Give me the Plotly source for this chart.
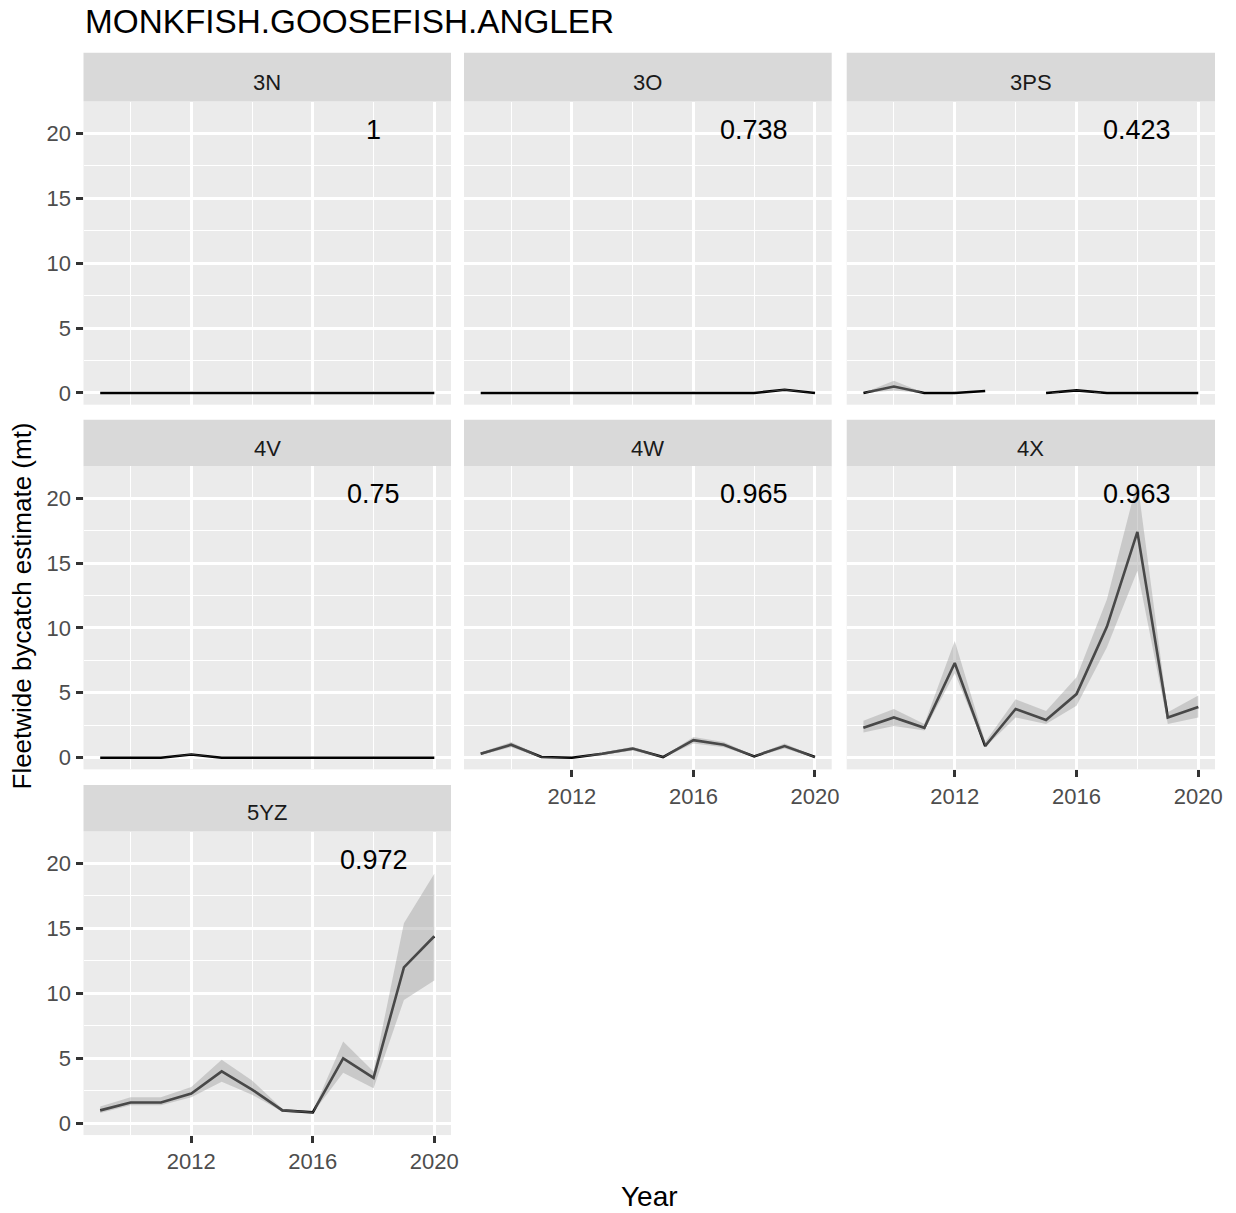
import plotly.graph_objects as go

# ---- data -------------------------------------------------------------
years = list(range(2009, 2021))
areas = ["3N", "3O", "3PS", "4V", "4W", "4X", "5YZ"]
area_labels = ["1", "0.738", "0.423", "0.75", "0.965", "0.963", "0.972"]

est_3N = [0, 0, 0, 0, 0, 0, 0, 0, 0, 0, 0, 0]
lo_3N = [0, 0, 0, 0, 0, 0, 0, 0, 0, 0, 0, 0]
hi_3N = [0, 0, 0, 0, 0, 0, 0, 0, 0, 0, 0, 0]

est_3O = [0, 0, 0, 0, 0, 0, 0, 0, 0, 0, 0.25, 0]
lo_3O = [0, 0, 0, 0, 0, 0, 0, 0, 0, 0, 0.22, 0]
hi_3O = [0, 0, 0, 0, 0, 0, 0, 0, 0, 0, 0.28, 0]

est_3PS = [0, 0.5, 0, 0, 0.15, None, 0, 0.2, 0, 0, 0, 0]
lo_3PS = [0, 0.2, 0, 0, 0.15, None, 0, 0.18, 0, 0, 0, 0]
hi_3PS = [0, 0.95, 0, 0, 0.15, None, 0, 0.22, 0, 0, 0, 0]

est_4V = [0, 0, 0, 0.25, 0, 0, 0, 0, 0, 0, 0, 0]
lo_4V = [0, 0, 0, 0.22, 0, 0, 0, 0, 0, 0, 0, 0]
hi_4V = [0, 0, 0, 0.28, 0, 0, 0, 0, 0, 0, 0, 0]

est_4W = [0.3, 1.0, 0.05, 0, 0.3, 0.7, 0.05, 1.35, 1.0, 0.1, 0.9, 0.05]
lo_4W = [0.2, 0.8, 0, 0, 0.2, 0.55, 0, 1.1, 0.8, 0.05, 0.7, 0]
hi_4W = [0.4, 1.2, 0.1, 0, 0.4, 0.85, 0.1, 1.6, 1.2, 0.15, 1.1, 0.1]

est_4X = [2.3, 3.1, 2.3, 7.3, 0.9, 3.75, 2.9, 4.9, 10.1, 17.4, 3.1, 3.9]
lo_4X = [1.95, 2.45, 2.1, 6.5, 0.8, 3.1, 2.6, 4.0, 8.5, 14.4, 2.6, 3.1]
hi_4X = [2.85, 3.75, 2.6, 9.0, 1.2, 4.5, 3.6, 6.2, 12.2, 21.3, 3.5, 4.8]

est_5YZ = [1.0, 1.6, 1.6, 2.3, 4.0, 2.6, 1.0, 0.85, 5.0, 3.5, 12.0, 14.4]
lo_5YZ = [0.8, 1.4, 1.4, 2.0, 3.2, 2.2, 0.9, 0.8, 3.9, 2.7, 9.5, 11.0]
hi_5YZ = [1.3, 2.0, 2.0, 2.8, 4.9, 3.3, 1.1, 0.9, 6.3, 4.0, 15.4, 19.2]

estimates = [est_3N, est_3O, est_3PS, est_4V, est_4W, est_4X, est_5YZ]
lowers = [lo_3N, lo_3O, lo_3PS, lo_4V, lo_4W, lo_4X, lo_5YZ]
uppers = [hi_3N, hi_3O, hi_3PS, hi_4V, hi_4W, hi_4X, hi_5YZ]

x_ticks = [2012, 2016, 2020]
x_minor = [2010, 2014, 2018]
y_ticks = [0, 5, 10, 15, 20]
y_minor = [2.5, 7.5, 12.5, 17.5]

# ---- layout geometry (pixels) -----------------------------------------
W, H = 1236, 1213
W_PLOT = 1228  # width the paper coordinates span once rendered
col_px = [(83.5, 451.0), (464.0, 831.7), (846.7, 1215.0)]
row_panel_px = [(101.7, 405.0), (466.7, 770.0), (832.3, 1136.0)]
row_strip_px = [(52.7, 101.7), (420.0, 466.7), (785.7, 832.3)]
row_strip_text = [83.0, 448.5, 813.5]

XR = [2008.45, 2020.55]
YR = [-0.9, 22.45]

FONT = "Liberation Sans, Arial, sans-serif"
PANEL_BG = "#EBEBEB"
STRIP_BG = "#D9D9D9"
RIBBON = "rgba(160,160,160,0.45)"


def px_x(p):
    return p / W_PLOT


def px_y(p):
    return 1 - p / H


def segments(xs, lo, hi):
    """Split a ribbon into runs without missing values."""
    runs, cur = [], []
    for x, a, b in zip(xs, lo, hi):
        if a is None or b is None:
            if cur:
                runs.append(cur)
            cur = []
        else:
            cur.append((x, a, b))
    if cur:
        runs.append(cur)
    return runs


fig = go.Figure()
shapes, annotations = [], []
layout = {}

for i, name in enumerate(areas):
    k = i + 1
    r, c = divmod(i, 3)
    xa = "x" if k == 1 else f"x{k}"
    ya = "y" if k == 1 else f"y{k}"
    bottom = name in ("4W", "4X", "5YZ")
    left = c == 0

    # estimate line
    fig.add_trace(go.Scatter(
        x=years, y=estimates[i], mode="lines",
        line=dict(color="black", width=2.6),
        xaxis=xa, yaxis=ya, showlegend=False, hoverinfo="skip",
    ))
    # confidence ribbon drawn over the line
    for run in segments(years, lowers[i], uppers[i]):
        xs = [p[0] for p in run] + [p[0] for p in run[::-1]]
        ys = [p[2] for p in run] + [p[1] for p in run[::-1]]
        fig.add_trace(go.Scatter(
            x=xs, y=ys, mode="lines", fill="toself", fillcolor=RIBBON,
            line=dict(width=0, color="rgba(0,0,0,0)"),
            xaxis=xa, yaxis=ya, showlegend=False, hoverinfo="skip",
        ))

    x0, x1 = col_px[c]
    py0, py1 = row_panel_px[r]
    layout["xaxis" if k == 1 else f"xaxis{k}"] = dict(
        domain=[px_x(x0), px_x(x1)], anchor=ya, range=XR,
        tickvals=x_ticks, ticktext=[str(v) for v in x_ticks],
        showticklabels=bottom, ticks="outside" if bottom else "",
        ticklen=7, tickwidth=2.5, tickcolor="#333333",
        tickfont=dict(family=FONT, size=22, color="#4D4D4D"),
        showgrid=True, gridcolor="white", gridwidth=2.7,
        minor=dict(tickvals=x_minor, showgrid=True, gridcolor="white",
                   gridwidth=1.4, ticks=""),
        zeroline=False, showline=False, fixedrange=True,
    )
    layout["yaxis" if k == 1 else f"yaxis{k}"] = dict(
        domain=[px_y(py1), px_y(py0)], anchor=xa, range=YR,
        tickvals=y_ticks, ticktext=[str(v) for v in y_ticks],
        showticklabels=left, ticks="outside" if left else "",
        ticklen=7, tickwidth=2.5, tickcolor="#333333",
        tickfont=dict(family=FONT, size=22, color="#4D4D4D"),
        showgrid=True, gridcolor="white", gridwidth=2.7,
        minor=dict(tickvals=y_minor, showgrid=True, gridcolor="white",
                   gridwidth=1.4, ticks=""),
        zeroline=False, showline=False, fixedrange=True,
    )

    # facet strip
    s0, s1 = row_strip_px[r]
    shapes.append(dict(
        type="rect", xref="paper", yref="paper",
        x0=px_x(x0), x1=px_x(x1), y0=px_y(s1), y1=px_y(s0),
        fillcolor=STRIP_BG, line=dict(width=0), layer="below",
    ))
    annotations.append(dict(
        text=name, xref="paper", yref="paper",
        x=px_x((x0 + x1) / 2), y=px_y(row_strip_text[r]),
        xanchor="center", yanchor="middle", showarrow=False,
        font=dict(family=FONT, size=22, color="#1A1A1A"),
    ))
    # panel value label
    annotations.append(dict(
        text=area_labels[i], xref=xa, yref=ya, x=2018, y=20.3,
        xanchor="center", yanchor="middle", showarrow=False,
        font=dict(family=FONT, size=27, color="black"),
    ))

# titles
annotations.append(dict(
    text="MONKFISH.GOOSEFISH.ANGLER", xref="paper", yref="paper",
    x=px_x(83), y=px_y(22), xanchor="left", yanchor="middle",
    showarrow=False, font=dict(family=FONT, size=33.3, color="black"),
))
annotations.append(dict(
    text="Year", xref="paper", yref="paper",
    x=px_x(649), y=px_y(1197), xanchor="center", yanchor="middle",
    showarrow=False, font=dict(family=FONT, size=28, color="black"),
))
annotations.append(dict(
    text="Fleetwide bycatch estimate (mt)", xref="paper", yref="paper",
    x=px_x(22), y=px_y(607), xanchor="center", yanchor="middle",
    textangle=-90, showarrow=False,
    font=dict(family=FONT, size=26, color="black"),
))

fig.update_layout(
    width=W, height=H, autosize=False,
    margin=dict(l=0, r=0, t=0, b=0),
    paper_bgcolor="white", plot_bgcolor=PANEL_BG,
    shapes=shapes, annotations=annotations, showlegend=False,
    **layout,
)

fig.write_html("out.html",
               config={"displayModeBar": False, "responsive": False})
